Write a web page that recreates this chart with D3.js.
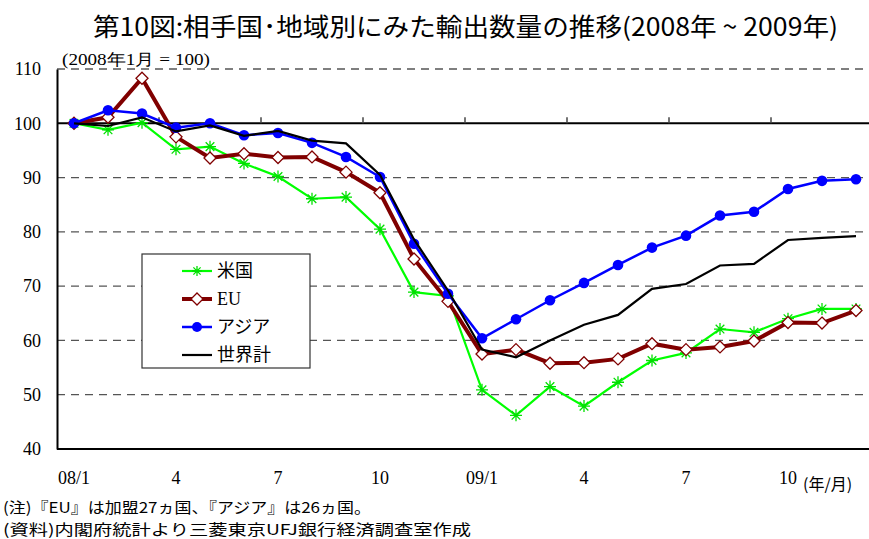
<!DOCTYPE html>
<html><head><meta charset="utf-8">
<script src="https://cdn.jsdelivr.net/npm/d3@7"></script>
<style>body{margin:0;background:#fff}</style>
</head><body>
<svg id="c" width="869" height="539"></svg>
<script>
const months = ["08/1","08/2","08/3","08/4","08/5","08/6","08/7","08/8","08/9","08/10","08/11","08/12",
                "09/1","09/2","09/3","09/4","09/5","09/6","09/7","09/8","09/9","09/10","09/11","09/12"];
const tickLabels = ["08/1","4","7","10","09/1","4","7","10"];
const yTicks = [40,50,60,70,80,90,100,110];
const usa   = [100,98.8,100.1,95.2,95.7,92.6,90.2,86.1,86.4,80.5,68.9,68.2,50.9,46.2,51.5,47.9,52.3,56.3,57.7,62.1,61.5,64.0,65.8,65.8];
const eu    = [100,101.1,108.3,97.5,93.6,94.4,93.7,93.8,91.0,87.2,75.0,67.2,57.5,58.3,55.8,55.9,56.6,59.4,58.3,58.8,59.9,63.3,63.2,65.5];
const asia  = [100,102.4,101.8,99.2,100,97.8,98.2,96.4,93.8,90.1,77.8,68.6,60.4,63.9,67.4,70.6,73.9,77.1,79.3,83.0,83.7,87.9,89.4,89.7];
const world = [100,99.5,101.1,98.5,99.6,97.7,98.6,96.8,96.3,90.5,78.6,69.2,58.3,56.9,60.0,62.9,64.7,69.5,70.4,73.8,74.1,78.5,78.9,79.2];
const seriesNames = ["米国","EU","アジア","世界計"];

const svg = d3.select("#c");
const serif = "'Liberation Serif','Times New Roman',serif";
const jp = "'Noto Sans CJK JP','Noto Sans',sans-serif";

const x = d3.scaleBand().domain(months).range([57, 873]).paddingInner(0).paddingOuter(0);
const cx = m => x(m) + x.bandwidth()/2;
const y = d3.scaleLinear().domain([40,110]).range([449, 69]);

// title
svg.append("text").attr("x",93).attr("y",36).attr("font-family",jp).attr("font-size",25)
  .attr("textLength",745).attr("lengthAdjust","spacingAndGlyphs").attr("fill","#000")
  .text("第10図:相手国･地域別にみた輸出数量の推移(2008年 ~ 2009年)");
svg.append("text").attr("x",62).attr("y",65).attr("font-family",serif).attr("font-size",16)
  .attr("textLength",148).attr("lengthAdjust","spacingAndGlyphs")
  .text("(2008年1月 = 100)");

// gridlines
const grid = svg.append("g");
yTicks.filter(v => v!==40 && v!==100).forEach(v => {
  grid.append("line").attr("x1",57).attr("x2",869).attr("y1",y(v)).attr("y2",y(v))
    .attr("stroke","#555").attr("stroke-width",1.3).attr("stroke-dasharray","8,6");
});

// y axis
const yAxis = d3.axisLeft(y).tickValues(yTicks).tickSize(0).tickPadding(16);
const ya = svg.append("g").attr("transform","translate(57,0)").call(yAxis);
ya.select(".domain").attr("stroke","#000").attr("stroke-width",2);
ya.selectAll("text").attr("font-family",serif).attr("font-size",18).attr("fill","#000");

// bottom line
svg.append("line").attr("x1",57).attr("x2",869).attr("y1",y(40)).attr("y2",y(40))
  .attr("stroke","#000").attr("stroke-width",2);

// x axis at 100 with upward ticks at boundaries
const xa = svg.append("g").attr("transform",`translate(0,${y(100)})`);
xa.append("line").attr("x1",57).attr("x2",869).attr("y1",0).attr("y2",0).attr("stroke","#000").attr("stroke-width",2);
months.forEach((m,i) => {
  if (i % 3 === 0 && i > 0) {
    xa.append("line").attr("x1",x(m)).attr("x2",x(m)).attr("y1",0).attr("y2",-6)
      .attr("stroke","#444").attr("stroke-width",1.5);
  }
});

// x tick labels at bottom
const labelIdx = [0,3,6,9,12,15,18,21];
labelIdx.forEach((idx,k) => {
  svg.append("text").attr("x",cx(months[idx])).attr("y",484).attr("text-anchor","middle")
    .attr("font-family",serif).attr("font-size",18).text(tickLabels[k]);
});
svg.append("text").attr("x",803).attr("y",490).attr("font-family",jp).attr("font-size",16)
  .text("(年/月)");

// lines
const line = d3.line().x((d,i) => cx(months[i])).y(d => y(d));
const star = (g, px, py, s, col) => {
  const p = d3.path();
  p.moveTo(px-s,py); p.lineTo(px+s,py);
  p.moveTo(px,py-s); p.lineTo(px,py+s);
  const d = s*0.72;
  p.moveTo(px-d,py-d); p.lineTo(px+d,py+d);
  p.moveTo(px-d,py+d); p.lineTo(px+d,py-d);
  g.append("path").attr("d",p.toString()).attr("stroke",col).attr("stroke-width",1.3).attr("fill","none");
};
const diamond = (g, px, py, s) => {
  g.append("path").attr("d",`M${px},${py-s}L${px+s},${py}L${px},${py+s}L${px-s},${py}Z`)
    .attr("fill","#fff").attr("stroke","#800000").attr("stroke-width",1.3);
};

const gU = svg.append("g");
gU.append("path").datum(usa).attr("d",line).attr("fill","none").attr("stroke","#00ff00").attr("stroke-width",2.2);
usa.forEach((v,i) => star(gU, cx(months[i]), y(v), 6, "#00e000"));

const gE = svg.append("g");
gE.append("path").datum(eu).attr("d",line).attr("fill","none").attr("stroke","#800000").attr("stroke-width",4);
eu.forEach((v,i) => diamond(gE, cx(months[i]), y(v), 6));

const gA = svg.append("g");
gA.append("path").datum(asia).attr("d",line).attr("fill","none").attr("stroke","#0000ff").attr("stroke-width",2.5);
gA.selectAll("circle").data(asia).enter().append("circle")
  .attr("cx",(d,i)=>cx(months[i])).attr("cy",d=>y(d)).attr("r",5.3).attr("fill","#0000ff");

const gW = svg.append("g");
gW.append("path").datum(world).attr("d",line).attr("fill","none").attr("stroke","#000").attr("stroke-width",2.2);

// legend
const lg = svg.append("g");
lg.append("rect").attr("x",142).attr("y",254).attr("width",168).attr("height",114)
  .attr("fill","#fff").attr("stroke","#333").attr("stroke-width",1.2);
const ly = [271,299,327,355];
lg.append("line").attr("x1",182).attr("x2",212).attr("y1",ly[0]).attr("y2",ly[0]).attr("stroke","#00ff00").attr("stroke-width",2.2);
star(lg,197,ly[0],5,"#00e000");
lg.append("line").attr("x1",182).attr("x2",212).attr("y1",ly[1]).attr("y2",ly[1]).attr("stroke","#800000").attr("stroke-width",4);
diamond(lg,197,ly[1],6);
lg.append("line").attr("x1",182).attr("x2",212).attr("y1",ly[2]).attr("y2",ly[2]).attr("stroke","#0000ff").attr("stroke-width",2.5);
lg.append("circle").attr("cx",197).attr("cy",ly[2]).attr("r",5).attr("fill","#0000ff");
lg.append("line").attr("x1",182).attr("x2",212).attr("y1",ly[3]).attr("y2",ly[3]).attr("stroke","#000").attr("stroke-width",2.2);
seriesNames.forEach((n,i) => {
  lg.append("text").attr("x",217).attr("y",ly[i]+6).attr("font-family", n==="EU"?serif:jp)
    .attr("font-size",18).text(n);
});

// notes
svg.append("text").attr("x",3).attr("y",513).attr("font-family",jp).attr("font-size",15)
  .attr("textLength",368).attr("lengthAdjust","spacingAndGlyphs")
  .text("(注)『EU』は加盟27ヵ国、『アジア』は26ヵ国。");
svg.append("text").attr("x",3).attr("y",535).attr("font-family",jp).attr("font-size",15)
  .attr("textLength",468).attr("lengthAdjust","spacingAndGlyphs")
  .text("(資料)内閣府統計より三菱東京UFJ銀行経済調査室作成");
</script>
</body></html>
